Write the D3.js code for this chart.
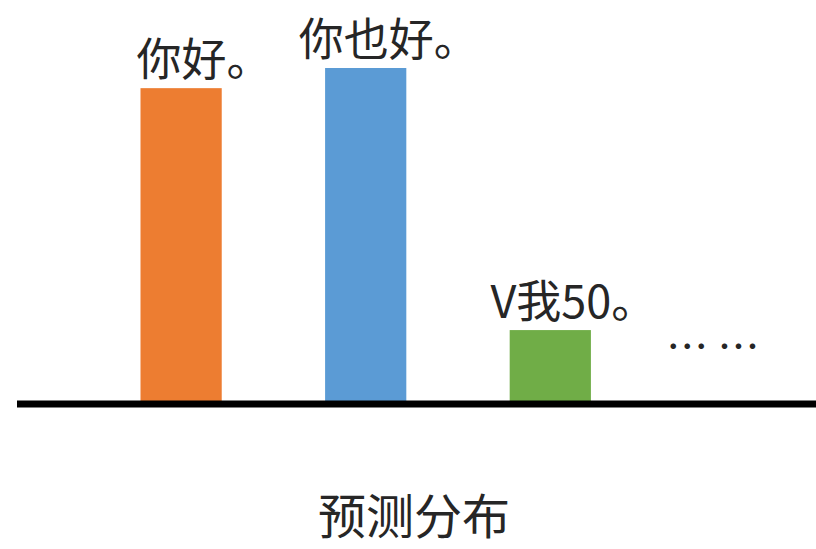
<!DOCTYPE html>
<html>
<head>
<meta charset="utf-8">
<script src="https://cdn.jsdelivr.net/npm/d3@7"></script>
<style>
  html, body { margin: 0; padding: 0; background: #fff; }
  svg { display: block; }
</style>
</head>
<body>
<svg id="chart" width="816" height="549"></svg>
<script>
// Candidate outputs and their predicted probabilities
const categories = ["你好。", "你也好。", "V我50。"];
const probabilities = [0.47, 0.50, 0.11];
const barColors = ["#ED7D31", "#5B9BD5", "#70AD47"];
const moreLabel = "… …";
const axisTitle = "预测分布";

const W = 816, H = 549;
const baselineY = 404;
const font = "'Noto Sans CJK SC', 'Noto Sans', sans-serif";

const svg = d3.select("#chart");

// Band positions: the three candidates plus a trailing slot for the ellipsis
const x = d3.scaleBand()
  .domain([...categories, moreLabel])
  .range([140.5, 775.5])
  .paddingInner(0.56)
  .paddingOuter(0);

const y = d3.scaleLinear()
  .domain([0, 0.5])
  .range([baselineY, 68]);

const data = categories.map((c, i) => ({ c, p: probabilities[i], color: barColors[i] }));

// Bars
svg.append("g")
  .selectAll("rect")
  .data(data)
  .join("rect")
  .attr("x", d => x(d.c))
  .attr("y", d => y(d.p))
  .attr("width", x.bandwidth())
  .attr("height", d => y(0) - y(d.p))
  .attr("fill", d => d.color);

// Candidate labels above each bar
svg.append("g")
  .selectAll("text")
  .data(data)
  .join("text")
  .attr("x", d => x(d.c) + x.bandwidth() / 2 + 23)
  .attr("y", d => y(d.p) - 12)
  .attr("text-anchor", "middle")
  .attr("font-family", font)
  .attr("font-size", 45)
  .attr("fill", "#262626")
  .text(d => d.c);

// Ellipsis for the remaining candidates
svg.append("text")
  .attr("x", x(moreLabel) + x.bandwidth() / 2 - 22)
  .attr("y", 362)
  .attr("text-anchor", "middle")
  .attr("font-family", font)
  .attr("font-size", 42)
  .attr("fill", "#262626")
  .text(moreLabel);

// Baseline
svg.append("line")
  .attr("x1", 17)
  .attr("x2", W)
  .attr("y1", baselineY)
  .attr("y2", baselineY)
  .attr("stroke", "#000")
  .attr("stroke-width", 7);

// Title below the axis
svg.append("text")
  .attr("x", 414)
  .attr("y", 534)
  .attr("text-anchor", "middle")
  .attr("font-family", font)
  .attr("font-size", 48)
  .attr("fill", "#262626")
  .text(axisTitle);
</script>
</body>
</html>
